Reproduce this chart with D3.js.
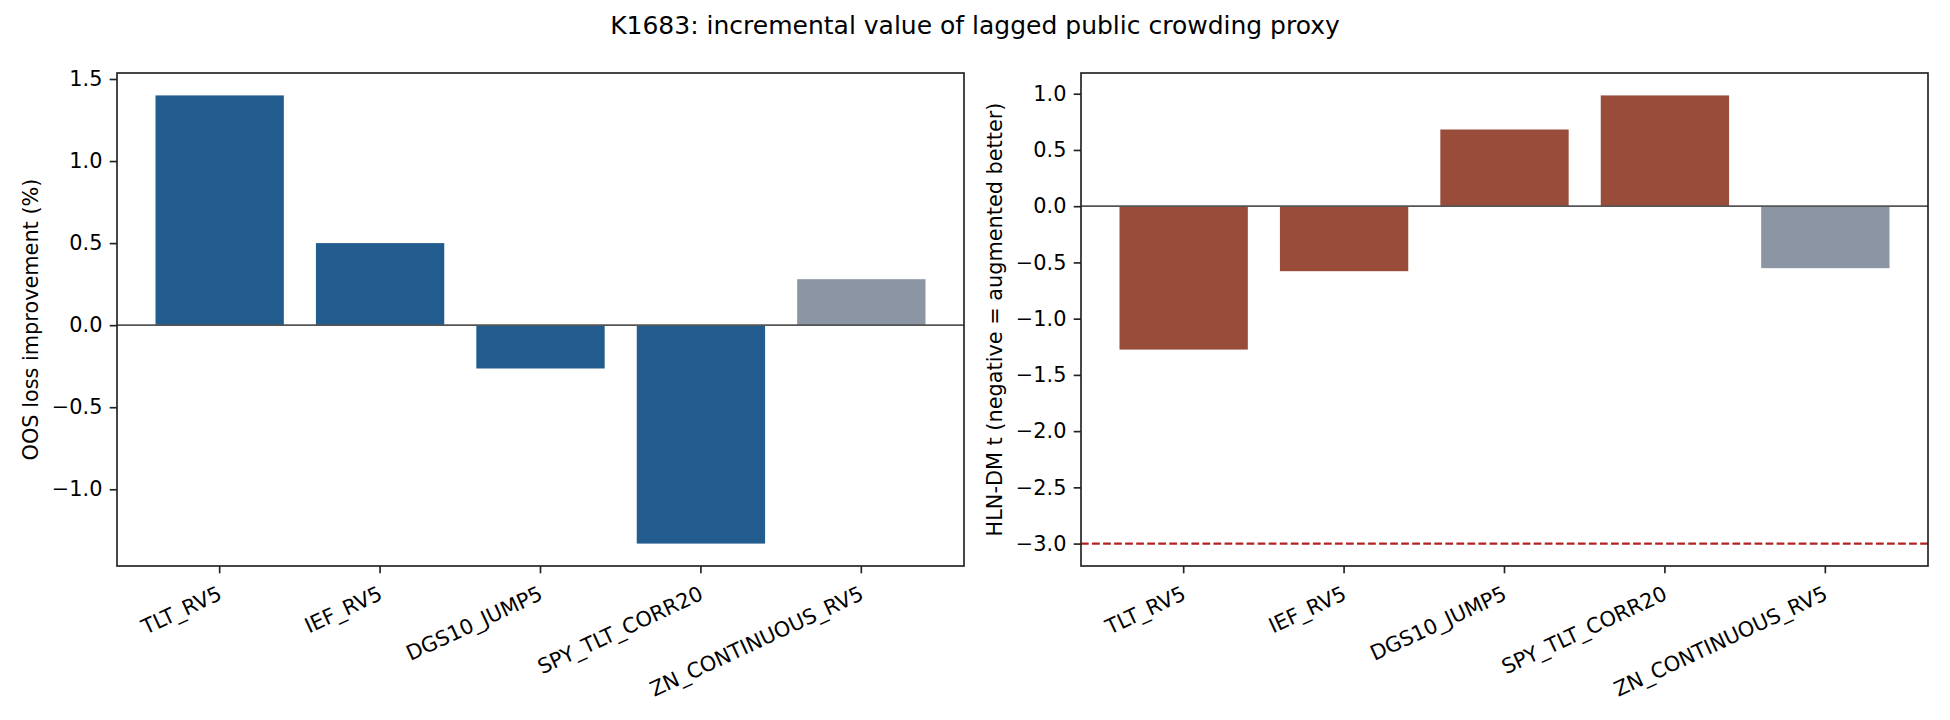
<!DOCTYPE html>
<html>
<head>
<meta charset="utf-8">
<script src="https://cdn.jsdelivr.net/npm/d3@7"></script>
<style>
  body { margin: 0; background: #fff; }
  svg { display: block; font-family: "DejaVu Sans", sans-serif; }
</style>
</head>
<body>
<div id="chart"></div>
<script>
// data
const categories = ["TLT_RV5", "IEF_RV5", "DGS10_JUMP5", "SPY_TLT_CORR20", "ZN_CONTINUOUS_RV5"];
const lossImprovement = [1.40, 0.50, -0.264, -1.331, 0.28];   // OOS loss improvement (%)
const hlnDmT = [-1.275, -0.578, 0.682, 0.985, -0.551];         // HLN-DM t statistic
const greyed = ["ZN_CONTINUOUS_RV5"];
const threshold = -3.0;
const leftTicks = [-1.0, -0.5, 0.0, 0.5, 1.0, 1.5];
const rightTicks = [-3.0, -2.5, -2.0, -1.5, -1.0, -0.5, 0.0, 0.5, 1.0];

const W = 1950, H = 720;
const pt = 150 / 72; // figure drawn at 150 dpi
const fontTick = 10 * pt;
const tickLen = 3.5 * pt;
const lw = 0.8 * pt;

const svg = d3.select("#chart").append("svg")
    .attr("width", W).attr("height", H);
svg.append("rect").attr("width", W).attr("height", H).attr("fill", "#fff");

// suptitle
svg.append("text")
    .attr("x", 975).attr("y", 25)
    .attr("text-anchor", "middle")
    .attr("dominant-baseline", "central")
    .attr("font-size", 12 * pt)
    .attr("fill", "#000")
    .text("K1683: incremental value of lagged public crowding proxy");

// matplotlib-like autoscale with 5% margins
function paddedDomain(vals) {
    const lo = d3.min(vals), hi = d3.max(vals);
    const m = (hi - lo) * 0.05;
    return [lo - m, hi + m];
}

function panel(opts) {
    const { left, top, width, height, values, color, ticks, ylabel, ylabelX, extraLine } = opts;
    const g = svg.append("g").attr("transform", `translate(${left},${top})`);

    const x = d3.scaleBand()
        .domain(categories)
        .range([0, width])
        .paddingInner(0.2)
        .paddingOuter(0.24);

    const domainVals = values.concat([0]);
    if (extraLine !== undefined) domainVals.push(extraLine);
    const y = d3.scaleLinear().domain(paddedDomain(domainVals)).range([height, 0]);

    // bars
    g.selectAll("rect.bar")
        .data(categories.map((c, i) => ({ c, v: values[i] })))
        .join("rect")
        .attr("class", "bar")
        .attr("x", d => x(d.c))
        .attr("width", x.bandwidth())
        .attr("y", d => y(Math.max(0, d.v)))
        .attr("height", d => Math.abs(y(d.v) - y(0)))
        .attr("fill", d => greyed.includes(d.c) ? "#8b95a4" : color);

    // zero line
    g.append("line")
        .attr("x1", 0).attr("x2", width)
        .attr("y1", y(0)).attr("y2", y(0))
        .attr("stroke", "#555").attr("stroke-width", lw);

    if (extraLine !== undefined) {
        g.append("line")
            .attr("x1", 0).attr("x2", width)
            .attr("y1", y(extraLine)).attr("y2", y(extraLine))
            .attr("stroke", "#b22222")
            .attr("stroke-width", 1 * pt)
            .attr("stroke-dasharray", `${3.7 * pt},${1.6 * pt}`);
    }

    // y axis
    const yAxis = g.append("g")
        .call(d3.axisLeft(y).tickValues(ticks).tickFormat(d3.format(".1f"))
            .tickSize(tickLen).tickPadding(tickLen).tickSizeOuter(0));
    yAxis.select(".domain").remove();
    yAxis.selectAll(".tick line").attr("stroke", "#222").attr("stroke-width", lw);
    yAxis.selectAll(".tick text")
        .attr("font-size", fontTick).attr("fill", "#000")
        .attr("font-family", "DejaVu Sans, sans-serif");

    // x axis
    const xAxis = g.append("g")
        .attr("transform", `translate(0,${height})`)
        .call(d3.axisBottom(x).tickSize(tickLen).tickSizeOuter(0).tickFormat(""));
    xAxis.select(".domain").remove();
    xAxis.selectAll(".tick line").attr("stroke", "#222").attr("stroke-width", lw);

    // rotated category labels (ha=right, 25 deg)
    g.append("g").selectAll("text")
        .data(categories)
        .join("text")
        .attr("transform", d => `translate(${x(d) + x.bandwidth() / 2 - 3},${height + 2 * tickLen + 4}) rotate(-25)`)
        .attr("text-anchor", "end")
        .attr("dy", "0.75em")
        .attr("font-size", fontTick)
        .attr("fill", "#000")
        .text(d => d);

    // frame
    g.append("rect")
        .attr("width", width).attr("height", height)
        .attr("fill", "none").attr("stroke", "#222").attr("stroke-width", lw);

    // y label
    svg.append("text")
        .attr("transform", `translate(${ylabelX},${top + height / 2}) rotate(-90)`)
        .attr("text-anchor", "middle")
        .attr("dominant-baseline", "central")
        .attr("font-size", fontTick)
        .attr("fill", "#000")
        .text(ylabel);
}

panel({
    left: 117, top: 73, width: 847, height: 493,
    values: lossImprovement, color: "#225b8e", ticks: leftTicks,
    ylabel: "OOS loss improvement (%)", ylabelX: 31
});

panel({
    left: 1081, top: 73, width: 847, height: 493,
    values: hlnDmT, color: "#9a4c3b", ticks: rightTicks,
    ylabel: "HLN-DM t (negative = augmented better)", ylabelX: 995,
    extraLine: threshold
});
</script>
</body>
</html>
